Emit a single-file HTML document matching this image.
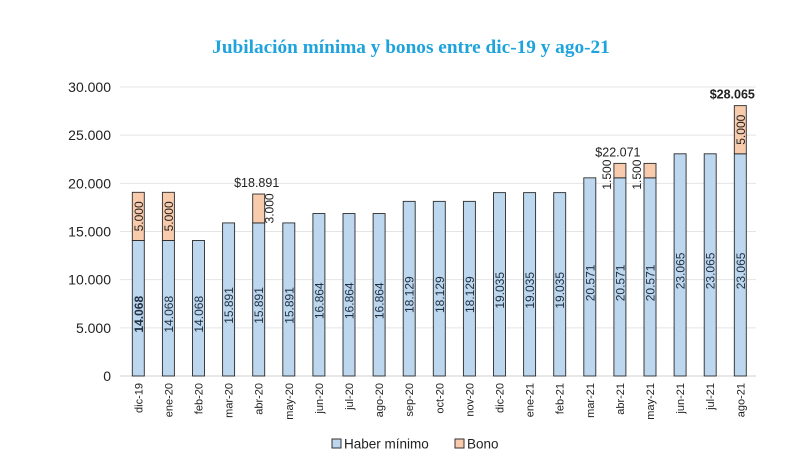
<!DOCTYPE html>
<html><head><meta charset="utf-8">
<style>
html,body{margin:0;padding:0;background:#fff;}
svg{display:block;}
</style></head>
<body>
<svg id="chart" width="800" height="469" viewBox="0 0 800 469" xmlns="http://www.w3.org/2000/svg">
<text x="411" y="53" text-anchor="middle" font-family="Liberation Serif, serif" font-weight="bold" font-size="19.3" fill="#1fa3dc">Jubilación mínima y bonos entre dic-19 y ago-21</text>
<g id="grid"></g>
<g id="bars"></g>
<g id="legend">
<rect x="332" y="439" width="9" height="9" fill="#bdd7ee" stroke="#333" stroke-width="1"/>
<text x="344" y="448.5" font-family="Liberation Sans, sans-serif" font-size="13.5" fill="#222">Haber mínimo</text>
<rect x="455" y="439" width="9" height="9" fill="#f8cbad" stroke="#333" stroke-width="1"/>
<text x="467" y="448.5" font-family="Liberation Sans, sans-serif" font-size="13.5" fill="#222">Bono</text>
</g>
</svg>
<script>
const categories = ["dic-19","ene-20","feb-20","mar-20","abr-20","may-20","jun-20","jul-20","ago-20","sep-20","oct-20","nov-20","dic-20","ene-21","feb-21","mar-21","abr-21","may-21","jun-21","jul-21","ago-21"];
const haber = [14068,14068,14068,15891,15891,15891,16864,16864,16864,18129,18129,18129,19035,19035,19035,20571,20571,20571,23065,23065,23065];
const bono = [5000,5000,0,0,3000,0,0,0,0,0,0,0,0,0,0,0,1500,1500,0,0,5000];
const yTicks = [0,5000,10000,15000,20000,25000,30000];
const totalLabels = {4:"$18.891",16:"$22.071",20:"$28.065"};

const NS = "http://www.w3.org/2000/svg";
const y0 = 376, yTop = 87, yMax = 30000;
const x0 = 138.3, step = 30.1, bw = 12;
function y(v){ return y0 - v/yMax*(y0-yTop); }
function x(i){ return x0 + i*step; }
function fmt(v){ return v.toLocaleString('de-DE'); }
function mk(tag, attrs, parent){
  const el = document.createElementNS(NS, tag);
  for (const k in attrs) el.setAttribute(k, attrs[k]);
  parent.appendChild(el);
  return el;
}
const grid = document.getElementById('grid');
const bars = document.getElementById('bars');
const F = "Liberation Sans, sans-serif";

yTicks.forEach(t => {
  const l = mk('line', {x1:120, x2:756, y1:y(t), y2:y(t), stroke: t===0?'#d0d0d0':'#e4e4e4', 'stroke-width':1}, grid);
  
  
  const tx = mk('text', {x:111, y:y(t)+5, 'text-anchor':'end', 'font-family':F, 'font-size':14, fill:'#222'}, grid);
  tx.textContent = fmt(t);
  
  
});

categories.forEach((c, i) => {
  const cx = x(i);
  const r = mk('rect', {x:cx-bw/2, y:y(haber[i]), width:bw, height:y0-y(haber[i]), fill:'#bdd7ee', stroke:'#2b2b2b', 'stroke-width':0.9}, bars);
  
  
  const hl = mk('text', {transform:`translate(${cx+4.5},${(y0+y(haber[i]))/2+6}) rotate(-90)`, 'text-anchor':'middle', 'font-family':F, 'font-size':12, fill:'#1f2f40', 'font-weight': i===0?'bold':'normal'}, bars);
  hl.textContent = fmt(haber[i]);
  
  
  if (bono[i] > 0) {
    const top = y(haber[i] + bono[i]);
    const b = mk('rect', {x:cx-bw/2, y:top, width:bw, height:y(haber[i])-top, fill:'#f8cbad', stroke:'#2b2b2b', 'stroke-width':0.9}, bars);
    
    
    const inside = bono[i] >= 5000;
    let lx, ly;
    if (inside) { lx = cx+4.5; ly = (top + y(haber[i]))/2; }
    else if (i === 4) { lx = cx+bw/2+9; ly = (top + y(haber[i]))/2; }
    else { lx = cx-bw/2-3; ly = (top + y(haber[i]))/2 + 4; }
    const bl = mk('text', {transform:`translate(${lx},${ly}) rotate(-90)`, 'text-anchor':'middle', 'font-family':F, 'font-size':12, fill:'#222'}, bars);
    bl.textContent = fmt(bono[i]);
    
    
  }
  if (totalLabels[i]) {
    const tt = y(haber[i] + bono[i]);
    const tl = mk('text', {x: i===20 ? cx-8 : cx-2, y: tt-7, 'text-anchor':'middle', 'font-family':F, 'font-size':12.5, fill:'#222', 'font-weight': i===20?'bold':'normal'}, bars);
    tl.textContent = totalLabels[i];
    
    
  }
  const xl = mk('text', {transform:`translate(${cx+4},${y0+7}) rotate(-90)`, 'text-anchor':'end', 'font-family':F, 'font-size':11, fill:'#222'}, bars);
  xl.textContent = c;
  
  
});
</script>
</body></html>
